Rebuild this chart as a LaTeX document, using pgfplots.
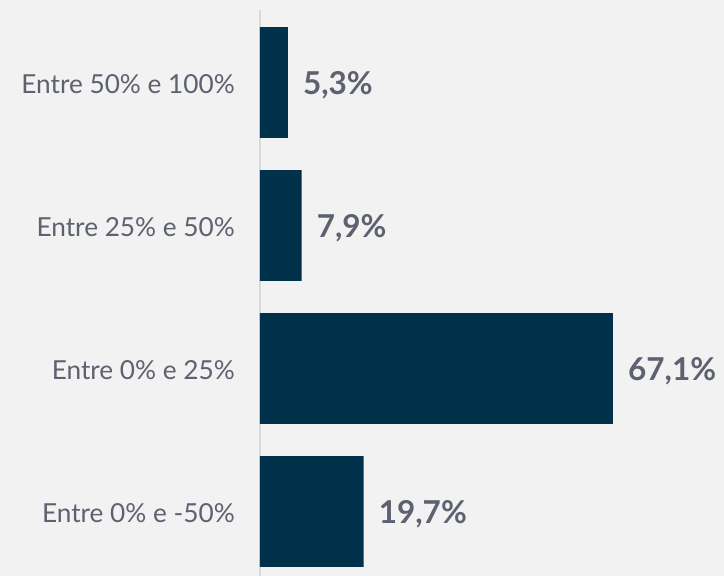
\documentclass[border=0pt]{standalone}
\usepackage{pgfplots}
\pgfplotsset{compat=1.18}
\usepackage{fontspec}
\setmainfont{Lato}
\definecolor{bg}{HTML}{F2F2F2}
\definecolor{barc}{HTML}{00304A}
\definecolor{txt}{HTML}{5E6170}
\definecolor{axc}{HTML}{D9D9D9}
\begin{document}
\begin{tikzpicture}
\fill[bg] (-260bp,0bp) rectangle (464bp,576bp);
\begin{axis}[
  at={(0bp,0bp)}, anchor=south west,
  scale only axis,
  width=464bp, height=566bp,
  xbar, bar width=0.776,
  xmin=0, xmax=88.2,
  ymin=-0.451, ymax=3.507,
  hide x axis,
  axis y line*=left,
  y axis line style={color=axc, line width=2bp, -},
  ytick={0,1,2,3},
  yticklabels={Entre 0\% e -50\%, Entre 0\% e 25\%, Entre 25\% e 50\%, Entre 50\% e 100\%},
  major tick length=0pt,
  ytick style={draw=none},
  yticklabel style={anchor=east, inner sep=0pt, xshift=-25bp, yshift=-1.5bp, text=txt, font=\fontsize{26.2bp}{30bp}\selectfont},
  nodes near coords,
  point meta=explicit symbolic,
  every node near coord/.append style={anchor=west, inner sep=0pt, xshift=15bp, yshift=-2.5bp, text=txt, font=\fontsize{31.5bp}{36bp}\selectfont\bfseries},
]
\addplot[fill=barc, draw=none] table[meta=lab] {
x y lab
19.7 0 19,7\%
67.1 1 67,1\%
7.9 2 7,9\%
5.3 3 5,3\%
};
\end{axis}
\end{tikzpicture}
\end{document}
